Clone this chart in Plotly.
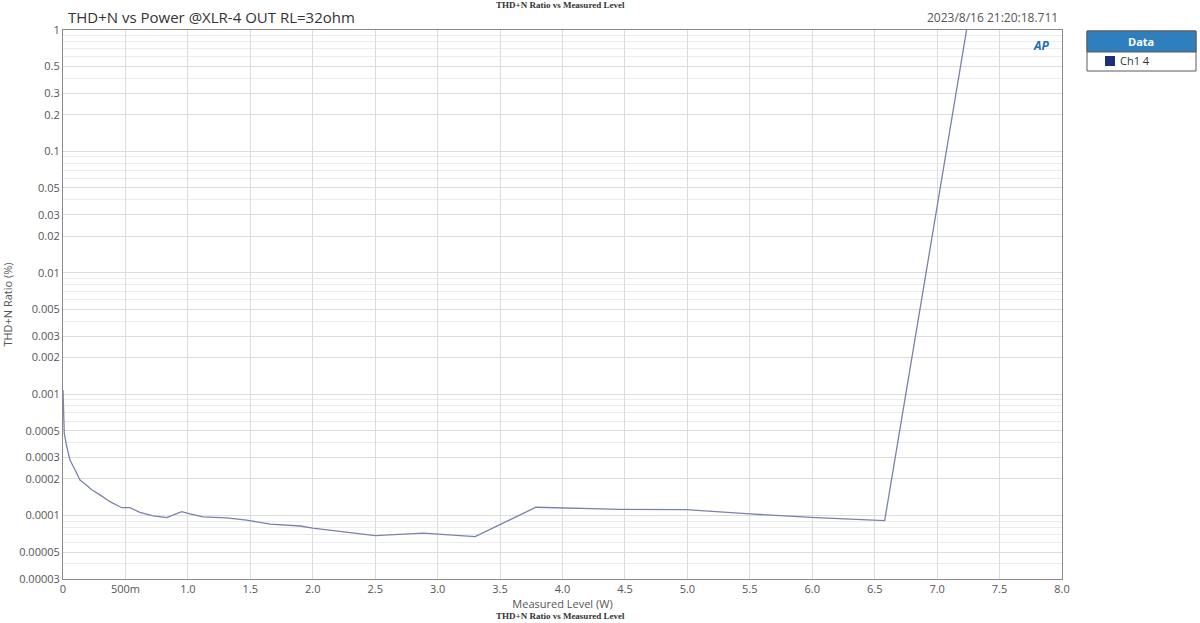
import plotly.graph_objects as go
import numpy as np

# Data
power_w = [0.0, 0.01, 0.03, 0.056, 0.096, 0.136, 0.184, 0.23, 0.296, 0.376, 0.47, 0.536,
           0.616, 0.723, 0.83, 0.883, 0.95, 1.017, 1.12, 1.31, 1.47, 1.66, 1.90, 2.00,
           2.50, 2.885, 3.30, 3.787, 4.46, 4.99, 5.50, 6.03, 6.58, 7.32]
thdn_pct = [0.00108, 0.000476, 0.00037, 0.000287, 0.000238, 0.000196, 0.000179, 0.000163,
            0.000148, 0.000130, 0.000116, 0.000116, 0.000106, 0.0000993, 0.0000962, 0.000101,
            0.0001077, 0.000103, 0.0000975, 0.0000955, 0.0000915, 0.0000850, 0.0000820,
            0.0000786, 0.0000684, 0.0000715, 0.0000671, 0.000117, 0.0001125, 0.000112,
            0.000103, 0.0000962, 0.0000908, 3.3]

y_tick_vals = [1, 0.5, 0.3, 0.2, 0.1, 0.05, 0.03, 0.02, 0.01, 0.005, 0.003, 0.002,
               0.001, 0.0005, 0.0003, 0.0002, 0.0001, 0.00005, 0.00003]
y_tick_text = ["1", "0.5", "0.3", "0.2", "0.1", "0.05", "0.03", "0.02", "0.01", "0.005",
               "0.003", "0.002", "0.001", "0.0005", "0.0003", "0.0002", "0.0001",
               "0.00005", "0.00003"]
x_tick_vals = [0, 0.5, 1.0, 1.5, 2.0, 2.5, 3.0, 3.5, 4.0, 4.5, 5.0, 5.5, 6.0, 6.5, 7.0, 7.5, 8.0]
x_tick_text = ["0", "500m", "1.0", "1.5", "2.0", "2.5", "3.0", "3.5", "4.0", "4.5", "5.0",
               "5.5", "6.0", "6.5", "7.0", "7.5", "8.0"]

minor_vals = []
for dec in range(-5, 1):
    for m in range(2, 10):
        v = m * 10.0 ** dec
        if 0.00003 <= v <= 1 and not any(abs(v - t) / t < 1e-6 for t in y_tick_vals):
            minor_vals.append(v)

FONT = "Open Sans, Noto Sans, DejaVu Sans, sans-serif"

fig = go.Figure()
fig.add_trace(go.Scatter(
    x=power_w, y=thdn_pct, mode="lines",
    line=dict(color="#7a82aa", width=1.3),
    name="Ch1 4", showlegend=False,
))

fig.update_layout(
    width=1200, height=623,
    margin=dict(l=63, r=138, t=30, b=44, autoexpand=False),
    paper_bgcolor="white", plot_bgcolor="white",
    font=dict(family=FONT, size=11, color="#555555"),
    showlegend=False,
)

fig.update_xaxes(
    range=[0, 8], tickvals=x_tick_vals, ticktext=x_tick_text,
    showgrid=True, gridcolor="#dcdcdc", gridwidth=1,
    showline=True, linecolor="#8a8a8a", linewidth=1, mirror=True,
    ticks="", zeroline=False, automargin=False, tickfont=dict(size=11, color="#555555"),
    title=dict(text="Measured Level (W)", font=dict(size=11, color="#555555"), standoff=2),
)
fig.update_yaxes(
    type="log", range=[np.log10(0.00003), 0],
    tickvals=y_tick_vals, ticktext=y_tick_text,
    showgrid=True, gridcolor="#dcdcdc", gridwidth=1,
    minor=dict(tickvals=minor_vals, showgrid=True, gridcolor="#ececec", gridwidth=1, ticks=""),
    showline=True, linecolor="#8a8a8a", linewidth=1, mirror=True,
    ticks="", zeroline=False, automargin=False, tickfont=dict(size=11, color="#555555"),
    title=dict(text="THD+N Ratio (%)", font=dict(size=11, color="#555555"), standoff=6),
)


def px_x(p):
    return (p - 63) / 999


def px_y(p):
    return (579 - p) / 549


SERIF = "Liberation Serif, DejaVu Serif, serif"
fig.add_annotation(text="THD+N vs Power @XLR-4 OUT RL=32ohm", xref="paper", yref="paper",
                   x=px_x(66), y=px_y(17), xanchor="left", yanchor="middle",
                   showarrow=False, font=dict(size=15, color="#333333", family=FONT))
fig.add_annotation(text="<b>THD+N Ratio vs Measured Level</b>", xref="paper", yref="paper",
                   x=px_x(560), y=px_y(5), xanchor="center", yanchor="middle",
                   showarrow=False, font=dict(size=9, color="#333333", family=SERIF))
fig.add_annotation(text="<b>THD+N Ratio vs Measured Level</b>", xref="paper", yref="paper",
                   x=px_x(560), y=px_y(616), xanchor="center", yanchor="middle",
                   showarrow=False, font=dict(size=9, color="#333333", family=SERIF))
fig.add_annotation(text="2023/8/16 21:20:18.711", xref="paper", yref="paper",
                   x=px_x(1060), y=px_y(18), xanchor="right", yanchor="middle",
                   showarrow=False, font=dict(size=12, color="#555555", family=FONT))
fig.add_annotation(text="<b><i>AP</i></b>", xref="paper", yref="paper",
                   x=px_x(1041), y=px_y(46), xanchor="center", yanchor="middle",
                   showarrow=False, font=dict(size=12, color="#1f6fb5", family=FONT))

# Legend box drawn manually
fig.add_shape(type="rect", xref="paper", yref="paper",
              x0=px_x(1087), x1=px_x(1196), y0=px_y(71), y1=px_y(31),
              line=dict(color="#5a5a5a", width=1), fillcolor="white")
fig.add_shape(type="rect", xref="paper", yref="paper",
              x0=px_x(1087), x1=px_x(1196), y0=px_y(52), y1=px_y(31),
              line=dict(color="#5a5a5a", width=1), fillcolor="#2f7fbf")
fig.add_annotation(text="<b>Data</b>", xref="paper", yref="paper",
                   x=px_x(1141), y=px_y(41.5), xanchor="center", yanchor="middle",
                   showarrow=False, font=dict(size=11, color="white", family=FONT))
fig.add_shape(type="rect", xref="paper", yref="paper",
              x0=px_x(1105), x1=px_x(1115), y0=px_y(66), y1=px_y(56),
              line=dict(color="#1b2f7a", width=0), fillcolor="#1b2f7a")
fig.add_annotation(text="Ch1 4", xref="paper", yref="paper",
                   x=px_x(1118), y=px_y(61), xanchor="left", yanchor="middle",
                   showarrow=False, font=dict(size=11, color="#333333", family=FONT))

fig.write_html("out.html", config={"displayModeBar": False},
               post_script="document.body.style.margin='0';document.body.style.overflow='hidden';")
